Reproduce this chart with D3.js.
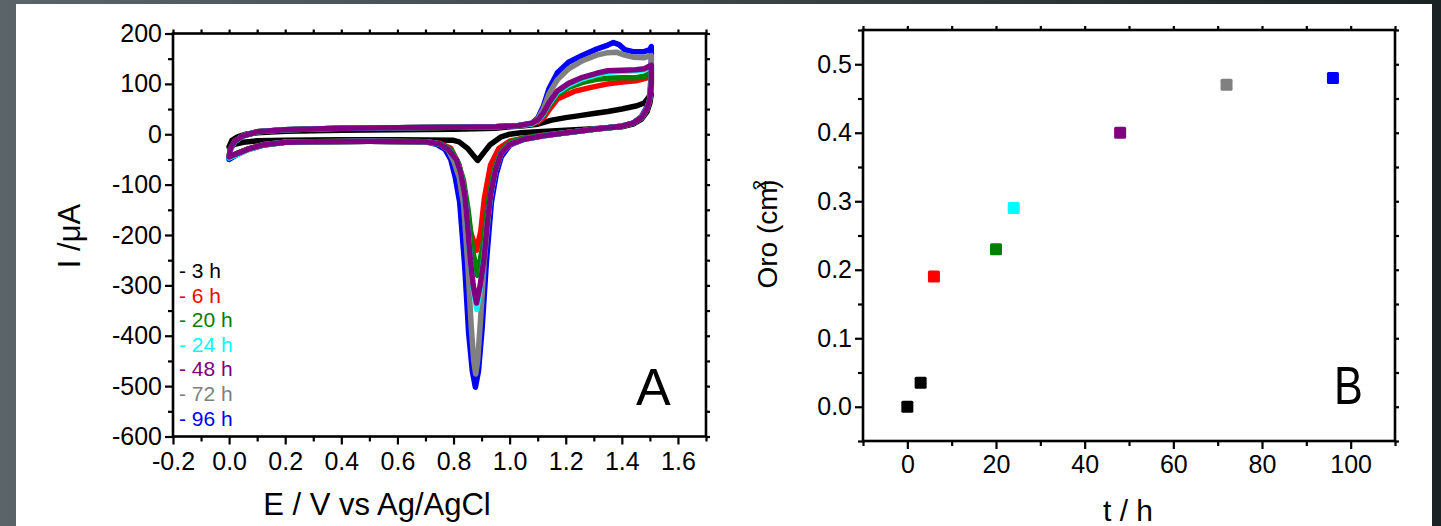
<!DOCTYPE html>
<html><head><meta charset="utf-8">
<script src="https://cdn.jsdelivr.net/npm/d3@7"></script>
<style>
body{margin:0;background:#333;}
svg{display:block;}
text{font-family:"Liberation Sans", Arial, sans-serif;}
</style>
</head><body>
<svg id="c" width="1441" height="526"></svg>
<script>
// ---------- DATA : panel A (cyclic voltammograms, [E (V), I (µA)]) ----------
const seriesLabels = ["3 h", "6 h", "20 h", "24 h", "48 h", "72 h", "96 h"];
const seriesColors = ["#000000", "#ff0000", "#008000", "#00ffff", "#800080", "#808080", "#0000ff"];

const cv3h = [
[0.00,-25],[0.01,-12],[0.03,-5],[0.06,0],[0.10,3],[0.20,6],[0.40,8],[0.60,9],[0.80,10],[0.95,12],[1.00,15],[1.05,17],[1.10,20],[1.15,28],[1.20,33],[1.25,37],[1.30,41],[1.35,45],[1.40,50],[1.45,56],[1.48,62],[1.505,80],
[1.50,62],[1.49,45],[1.47,30],[1.44,20],[1.40,15],[1.30,11],[1.20,8],[1.10,5],[1.04,3],[1.00,0],[0.97,-5],[0.93,-21],[0.91,-35],[0.886,-52],[0.865,-38],[0.85,-28],[0.82,-15],[0.80,-12],[0.60,-11],[0.40,-11],[0.20,-12],[0.10,-13],[0.05,-16],[0.02,-20],[0.00,-25]
];
const cv6h = [
[0.00,-45],[0.005,-28],[0.02,-14],[0.05,-3],[0.10,5],[0.20,9],[0.40,12],[0.60,13],[0.80,14],[0.95,15],[1.03,17],[1.08,20],[1.10,24],[1.12,32],[1.14,48],[1.17,70],[1.23,85],[1.29,93],[1.35,100],[1.41,104],[1.45,106],[1.49,112],[1.505,122],
[1.505,95],[1.50,70],[1.49,50],[1.47,33],[1.44,22],[1.40,16],[1.30,10],[1.20,3],[1.12,-2],[1.05,-8],[1.00,-14],[0.962,-28],[0.932,-61],[0.91,-127],[0.897,-193],[0.882,-230],[0.86,-193],[0.843,-127],[0.82,-61],[0.79,-28],[0.75,-18],[0.70,-15],[0.50,-14],[0.30,-15],[0.20,-16],[0.12,-21],[0.07,-29],[0.03,-38],[0.00,-45]
];
const cv20h = [
[0.00,-45],[0.005,-28],[0.02,-14],[0.05,-3],[0.10,5],[0.20,9],[0.40,12],[0.60,13],[0.80,14],[0.95,15],[1.03,17],[1.08,21],[1.10,26],[1.12,38],[1.14,56],[1.17,78],[1.21,93],[1.26,103],[1.31,109],[1.35,111],[1.40,112],[1.45,112],[1.48,115],[1.505,122],
[1.505,95],[1.50,70],[1.49,50],[1.47,33],[1.44,22],[1.40,16],[1.30,10],[1.20,3],[1.12,-2],[1.05,-8],[1.00,-15],[0.97,-35],[0.945,-70],[0.925,-130],[0.905,-220],[0.885,-280],[0.868,-230],[0.852,-150],[0.835,-90],[0.815,-55],[0.79,-30],[0.75,-19],[0.70,-15],[0.50,-14],[0.30,-15],[0.20,-16],[0.12,-21],[0.07,-29],[0.03,-38],[0.00,-45]
];
const cv24h = [
[0.00,-47],[0.005,-29],[0.02,-15],[0.05,-3],[0.10,5],[0.20,9],[0.40,12],[0.60,13],[0.80,14],[0.95,15],[1.03,17],[1.08,21],[1.10,27],[1.12,40],[1.14,60],[1.17,83],[1.21,98],[1.26,110],[1.31,118],[1.35,123],[1.40,125],[1.45,126],[1.48,128],[1.505,134],
[1.505,100],[1.50,72],[1.49,50],[1.47,33],[1.44,22],[1.40,16],[1.30,10],[1.20,3],[1.12,-3],[1.05,-10],[1.00,-20],[0.97,-38],[0.95,-70],[0.933,-120],[0.92,-180],[0.907,-250],[0.895,-305],[0.883,-348],[0.87,-305],[0.86,-250],[0.85,-180],[0.84,-120],[0.825,-75],[0.81,-50],[0.78,-30],[0.75,-19],[0.70,-15],[0.50,-14],[0.30,-15],[0.20,-16],[0.12,-21],[0.07,-30],[0.03,-40],[0.00,-47]
];
const cv48h = [
[0.00,-45],[0.005,-28],[0.02,-14],[0.05,-3],[0.10,5],[0.20,9],[0.40,12],[0.60,13],[0.80,14],[0.95,15],[1.03,17],[1.08,22],[1.10,28],[1.12,42],[1.14,62],[1.17,86],[1.21,101],[1.26,113],[1.31,121],[1.35,126],[1.40,127],[1.45,128],[1.48,130],[1.505,137],
[1.505,100],[1.50,72],[1.49,50],[1.47,33],[1.44,22],[1.40,16],[1.30,10],[1.20,3],[1.12,-3],[1.05,-10],[1.00,-20],[0.97,-38],[0.95,-70],[0.932,-120],[0.92,-180],[0.908,-250],[0.895,-300],[0.882,-335],[0.87,-300],[0.86,-250],[0.85,-180],[0.84,-120],[0.825,-75],[0.81,-50],[0.78,-30],[0.75,-19],[0.70,-15],[0.50,-14],[0.30,-15],[0.20,-16],[0.12,-21],[0.07,-29],[0.03,-38],[0.00,-45]
];
const cv72h = [
[0.00,-45],[0.005,-28],[0.02,-14],[0.05,-3],[0.10,5],[0.20,9],[0.40,12],[0.60,13],[0.80,14],[0.95,15],[1.03,17],[1.08,22],[1.10,30],[1.12,50],[1.14,80],[1.17,108],[1.21,130],[1.26,146],[1.31,157],[1.35,162],[1.38,163],[1.41,157],[1.44,153],[1.48,152],[1.505,156],
[1.505,110],[1.50,75],[1.49,52],[1.47,34],[1.44,22],[1.40,16],[1.30,10],[1.20,3],[1.12,-3],[1.05,-10],[1.00,-20],[0.97,-38],[0.95,-70],[0.93,-125],[0.91,-250],[0.896,-370],[0.886,-450],[0.879,-476],[0.872,-450],[0.863,-380],[0.851,-260],[0.836,-140],[0.82,-85],[0.80,-52],[0.78,-30],[0.75,-19],[0.70,-15],[0.50,-14],[0.30,-15],[0.20,-16],[0.12,-21],[0.07,-29],[0.03,-38],[0.00,-45]
];
const cv96h = [
[0.00,-50],[0.005,-30],[0.02,-15],[0.05,-3],[0.10,5],[0.20,9],[0.40,12],[0.60,13],[0.80,14],[0.95,15],[1.03,17],[1.08,22],[1.10,32],[1.12,55],[1.14,90],[1.17,122],[1.21,143],[1.26,157],[1.31,169],[1.35,177],[1.37,182],[1.39,178],[1.41,168],[1.44,164],[1.48,164],[1.50,168],[1.505,174],
[1.505,120],[1.50,80],[1.49,55],[1.47,35],[1.44,22],[1.40,16],[1.30,10],[1.20,3],[1.12,-3],[1.05,-10],[1.00,-22],[0.97,-45],[0.952,-80],[0.935,-135],[0.917,-255],[0.902,-385],[0.889,-470],[0.878,-502],[0.867,-470],[0.854,-395],[0.840,-262],[0.822,-135],[0.806,-85],[0.79,-50],[0.77,-30],[0.74,-20],[0.70,-15],[0.50,-14],[0.30,-15],[0.20,-16],[0.12,-22],[0.07,-30],[0.03,-40],[0.00,-50]
];
const cvSeries = [cv3h, cv6h, cv20h, cv24h, cv48h, cv72h, cv96h];
const drawOrder = [6, 5, 0, 1, 2, 3, 4];

const aXTicks = [-0.2, 0.0, 0.2, 0.4, 0.6, 0.8, 1.0, 1.2, 1.4, 1.6];
const aXMinor = [-0.1, 0.1, 0.3, 0.5, 0.7, 0.9, 1.1, 1.3, 1.5, 1.7];
const aYTicks = [-600, -500, -400, -300, -200, -100, 0, 100, 200];
const aYMinor = [-550, -450, -350, -250, -150, -50, 50, 150];

// ---------- DATA : panel B ----------
const bTimes = [0, 3, 6, 20, 24, 48, 72, 96];
const bArea = [0.0, 0.035, 0.19, 0.23, 0.29, 0.40, 0.47, 0.48];
const bColors = ["#000000", "#000000", "#ff0000", "#008000", "#00ffff", "#800080", "#808080", "#0000ff"];
const bXTicks = [0, 20, 40, 60, 80, 100];
const bXMinor = [-10, 10, 30, 50, 70, 90, 110];
const bYTicks = [0.0, 0.1, 0.2, 0.3, 0.4, 0.5];
const bYMinor = [-0.05, 0.05, 0.15, 0.25, 0.35, 0.45, 0.55];

// ---------- DRAW ----------
const svg = d3.select("#c");
const defs = svg.append("defs");
const grad = defs.append("linearGradient").attr("id", "bg").attr("x1", "0").attr("x2", "1").attr("y1", "0").attr("y2", "0");
grad.append("stop").attr("offset", "0").attr("stop-color", "#5b6468");
grad.append("stop").attr("offset", "0.5").attr("stop-color", "#3c4448");
grad.append("stop").attr("offset", "1").attr("stop-color", "#1b2226");
svg.append("rect").attr("width", 1441).attr("height", 526).attr("fill", "url(#bg)");
svg.append("rect").attr("x", 16).attr("y", 4).attr("width", 1416).attr("height", 522).attr("fill", "#ffffff");

const FONT = '"Liberation Sans", Arial, sans-serif';
const fmtHyphen = f => v => f(v).replace("\u2212", "-");

function styleAxis(g, fs) {
  g.select(".domain").remove();
  g.selectAll("line").attr("stroke", "#000").attr("stroke-width", 2.2);
  g.selectAll("text").attr("font-size", fs).attr("font-family", FONT).attr("fill", "#000");
  g.attr("font-size", null).attr("font-family", null);
}

function panel(x, y, o) {
  const [x0, x1] = x.range();
  const [y0, y1] = y.range(); // y0 bottom, y1 top
  const g = svg.append("g");
  g.append("g").attr("transform", `translate(0,${y0})`)
    .call(d3.axisBottom(x).tickValues(o.xt).tickSize(8).tickPadding(o.xpad).tickFormat(o.xf).tickSizeOuter(0))
    .call(s => styleAxis(s, 25));
  g.append("g").attr("transform", `translate(0,${y0})`)
    .call(d3.axisBottom(x).tickValues(o.xm).tickSize(5).tickFormat("").tickSizeOuter(0))
    .call(s => styleAxis(s, 25));
  g.append("g").attr("transform", `translate(${x0},0)`)
    .call(d3.axisLeft(y).tickValues(o.yt).tickSize(8).tickPadding(o.ypad).tickFormat(o.yf).tickSizeOuter(0))
    .call(s => styleAxis(s, 25));
  g.append("g").attr("transform", `translate(${x0},0)`)
    .call(d3.axisLeft(y).tickValues(o.ym).tickSize(5).tickFormat("").tickSizeOuter(0))
    .call(s => styleAxis(s, 25));
  g.append("g").attr("transform", `translate(0,${y1})`)
    .call(d3.axisTop(x).tickValues(o.xt.concat(o.xm)).tickSize(4).tickFormat("").tickSizeOuter(0))
    .call(s => styleAxis(s, 25));
  g.append("g").attr("transform", `translate(${x1},0)`)
    .call(d3.axisRight(y).tickValues(o.yt.concat(o.ym)).tickSize(4).tickFormat("").tickSizeOuter(0))
    .call(s => styleAxis(s, 25));
  g.append("rect").attr("x", x0).attr("y", y1).attr("width", x1 - x0).attr("height", y0 - y1)
    .attr("fill", "none").attr("stroke", "#000").attr("stroke-width", 2.6);
  return g;
}

// ----- Panel A -----
const xA = d3.scaleLinear().domain([-0.2, 1.7]).range([173, 706]);
const yA = d3.scaleLinear().domain([-600, 200]).range([436.5, 33.5]);

const line = d3.line().x(d => xA(d[0])).y(d => yA(d[1])).curve(d3.curveLinear);
const curves = svg.append("g");
drawOrder.forEach(i => {
  curves.append("path").datum(cvSeries[i]).attr("d", line)
    .attr("fill", "none").attr("stroke", seriesColors[i]).attr("stroke-width", 5.5)
    .attr("stroke-linejoin", "round").attr("stroke-linecap", "round");
});

panel(xA, yA, {
  xt: aXTicks, xm: aXMinor, yt: aYTicks, ym: aYMinor,
  xf: fmtHyphen(d3.format(".1f")), yf: fmtHyphen(d3.format("d")),
  xpad: 8, ypad: 3
});

svg.append("text").attr("x", 377).attr("y", 515).attr("text-anchor", "middle")
  .attr("font-size", 31).text("E / V vs Ag/AgCl");
svg.append("text").attr("transform", "translate(80,236) rotate(-90)").attr("text-anchor", "middle")
  .attr("font-size", 31).text("I /μA");
svg.append("text").attr("x", 636).attr("y", 405).attr("font-size", 52).text("A");

const legend = svg.append("g");
seriesLabels.forEach((lab, i) => {
  legend.append("text").attr("x", 179).attr("y", 278 + i * 24.6)
    .attr("font-size", 21).attr("fill", seriesColors[i]).text("- " + lab);
});

// ----- Panel B -----
const xB = d3.scaleLinear().domain([-10, 110]).range([863, 1395]);
const yB = d3.scaleLinear().domain([-0.05, 0.55]).range([441, 30]);

panel(xB, yB, {
  xt: bXTicks, xm: bXMinor, yt: bYTicks, ym: bYMinor,
  xf: d3.format("d"), yf: d3.format(".1f"),
  xpad: 6, ypad: 3
});

const sq = 12;
svg.append("g").selectAll("rect").data(bTimes).join("rect")
  .attr("x", (d, i) => xB(d) - sq / 2).attr("y", (d, i) => yB(bArea[i]) - sq / 2)
  .attr("width", sq).attr("height", sq).attr("rx", 1.5)
  .attr("fill", (d, i) => bColors[i]);

svg.append("text").attr("x", 1128).attr("y", 521).attr("text-anchor", "middle")
  .attr("font-size", 30).text("t / h");
const yt = svg.append("text").attr("transform", "translate(777,234) rotate(-90)").attr("text-anchor", "middle")
  .attr("font-size", 28);
yt.append("tspan").text("Oro (cm");
yt.append("tspan").attr("dy", -11).attr("dx", -3).attr("font-size", 19).text("2");
yt.append("tspan").attr("dy", 11).attr("dx", -9).text(")");
svg.append("text").attr("transform", "translate(1334,404) scale(0.8,1)").attr("font-size", 54).text("B");
</script>
</body></html>
